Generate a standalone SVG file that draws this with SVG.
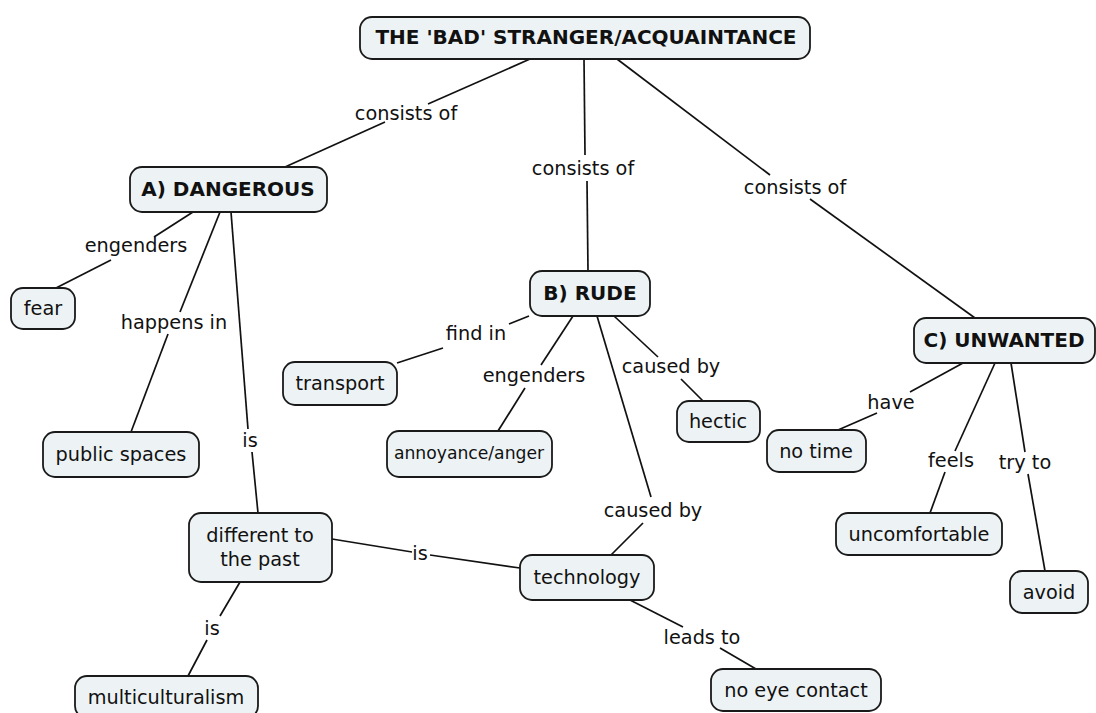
<svg xmlns="http://www.w3.org/2000/svg" width="1096" height="713" viewBox="0 0 1096 713">
  <style>
    .node rect { fill: #edf3f5; stroke: #1a1a1a; stroke-width: 1.8; }
    .node text { font-family: "DejaVu Sans", Verdana, sans-serif; font-size: 19.3px; fill: #111; text-anchor: middle; dominant-baseline: central; }
    .node text.b { font-weight: bold; font-size: 20px; }
    .node text.s { font-size: 17.2px; }
    .links line { stroke: #111; stroke-width: 1.7; }
    .links text { font-family: "DejaVu Sans", Verdana, sans-serif; font-size: 19.3px; fill: #111; text-anchor: middle; dominant-baseline: central; }
  </style>
  <rect width="1096" height="713" fill="#ffffff"/>

  <g class="links">
    <!-- root to A -->
    <line x1="530" y1="59" x2="428" y2="104"/>
    <line x1="385" y1="122" x2="285" y2="167"/>
    <text x="406" y="113">consists of</text>
    <!-- root to B -->
    <line x1="584" y1="59" x2="585" y2="155"/>
    <line x1="587" y1="181" x2="588" y2="271"/>
    <text x="583" y="168">consists of</text>
    <!-- root to C -->
    <line x1="617" y1="59" x2="770" y2="175"/>
    <line x1="810" y1="199" x2="975" y2="318"/>
    <text x="795" y="187">consists of</text>
    <!-- A to fear -->
    <line x1="193" y1="212" x2="154" y2="237"/>
    <line x1="111" y1="260" x2="56" y2="288"/>
    <text x="136" y="245">engenders</text>
    <!-- A to public spaces -->
    <line x1="220" y1="212" x2="180" y2="312"/>
    <line x1="168" y1="334" x2="131" y2="432"/>
    <text x="174" y="322">happens in</text>
    <!-- A to different to the past -->
    <line x1="231" y1="212" x2="248" y2="429"/>
    <line x1="252" y1="452" x2="258" y2="513"/>
    <text x="250" y="440">is</text>
    <!-- B to transport -->
    <line x1="529" y1="316" x2="509" y2="324"/>
    <line x1="443" y1="348" x2="397" y2="363"/>
    <text x="476" y="333">find in</text>
    <!-- B to annoyance/anger -->
    <line x1="573" y1="316" x2="541" y2="365"/>
    <line x1="525" y1="388" x2="498" y2="431"/>
    <text x="534" y="375">engenders</text>
    <!-- B to hectic -->
    <line x1="614" y1="316" x2="658" y2="357"/>
    <line x1="681" y1="379" x2="703" y2="401"/>
    <text x="671" y="366">caused by</text>
    <!-- B to technology -->
    <line x1="597" y1="316" x2="651" y2="497"/>
    <line x1="643" y1="523" x2="611" y2="555"/>
    <text x="653" y="510">caused by</text>
    <!-- C to no time -->
    <line x1="963" y1="363" x2="910" y2="392"/>
    <line x1="877" y1="413" x2="838" y2="430"/>
    <text x="891" y="402">have</text>
    <!-- C to uncomfortable -->
    <line x1="995" y1="363" x2="955" y2="451"/>
    <line x1="945" y1="472" x2="930" y2="513"/>
    <text x="951" y="460">feels</text>
    <!-- C to avoid -->
    <line x1="1011" y1="363" x2="1025" y2="452"/>
    <line x1="1028" y1="474" x2="1045" y2="571"/>
    <text x="1025" y="462">try to</text>
    <!-- different to the past to technology -->
    <line x1="332" y1="539" x2="412" y2="552"/>
    <line x1="430" y1="555" x2="520" y2="568"/>
    <text x="420" y="553">is</text>
    <!-- different to the past to multiculturalism -->
    <line x1="240" y1="582" x2="220" y2="616"/>
    <line x1="207" y1="640" x2="188" y2="676"/>
    <text x="212" y="628">is</text>
    <!-- technology to no eye contact -->
    <line x1="630" y1="600" x2="683" y2="627"/>
    <line x1="720" y1="648" x2="756" y2="669"/>
    <text x="702" y="637">leads to</text>
  </g>

  <g id="root" class="node">
    <rect x="360" y="17" width="450" height="42" rx="12"/>
    <text class="b" x="586" y="37">THE 'BAD' STRANGER/ACQUAINTANCE</text>
  </g>
  <g id="dangerous" class="node">
    <rect x="130" y="167" width="197" height="45" rx="12"/>
    <text class="b" x="228" y="189">A) DANGEROUS</text>
  </g>
  <g id="fear" class="node">
    <rect x="11" y="288" width="64" height="41" rx="12"/>
    <text x="43" y="308">fear</text>
  </g>
  <g id="public-spaces" class="node">
    <rect x="43" y="432" width="156" height="45" rx="12"/>
    <text x="121" y="454">public spaces</text>
  </g>
  <g id="rude" class="node">
    <rect x="530" y="271" width="120" height="45" rx="12"/>
    <text class="b" x="590" y="293">B) RUDE</text>
  </g>
  <g id="transport" class="node">
    <rect x="283" y="362" width="114" height="43" rx="12"/>
    <text x="340" y="383">transport</text>
  </g>
  <g id="annoyance" class="node">
    <rect x="387" y="431" width="165" height="46" rx="12"/>
    <text class="s" x="469" y="453">annoyance/anger</text>
  </g>
  <g id="hectic" class="node">
    <rect x="677" y="401" width="83" height="41" rx="12"/>
    <text x="718" y="421">hectic</text>
  </g>
  <g id="unwanted" class="node">
    <rect x="914" y="318" width="181" height="45" rx="12"/>
    <text class="b" x="1004" y="340">C) UNWANTED</text>
  </g>
  <g id="no-time" class="node">
    <rect x="767" y="430" width="99" height="42" rx="12"/>
    <text x="816" y="451">no time</text>
  </g>
  <g id="uncomfortable" class="node">
    <rect x="836" y="513" width="166" height="42" rx="12"/>
    <text x="919" y="534">uncomfortable</text>
  </g>
  <g id="avoid" class="node">
    <rect x="1010" y="571" width="78" height="42" rx="12"/>
    <text x="1049" y="592">avoid</text>
  </g>
  <g id="different" class="node">
    <rect x="189" y="513" width="143" height="69" rx="12"/>
    <text x="260" y="535">different to</text>
    <text x="260" y="559">the past</text>
  </g>
  <g id="technology" class="node">
    <rect x="520" y="555" width="134" height="45" rx="12"/>
    <text x="587" y="577">technology</text>
  </g>
  <g id="multiculturalism" class="node">
    <rect x="75" y="676" width="183" height="42" rx="12"/>
    <text x="166" y="697">multiculturalism</text>
  </g>
  <g id="no-eye-contact" class="node">
    <rect x="711" y="669" width="170" height="42" rx="12"/>
    <text x="796" y="690">no eye contact</text>
  </g>
</svg>
